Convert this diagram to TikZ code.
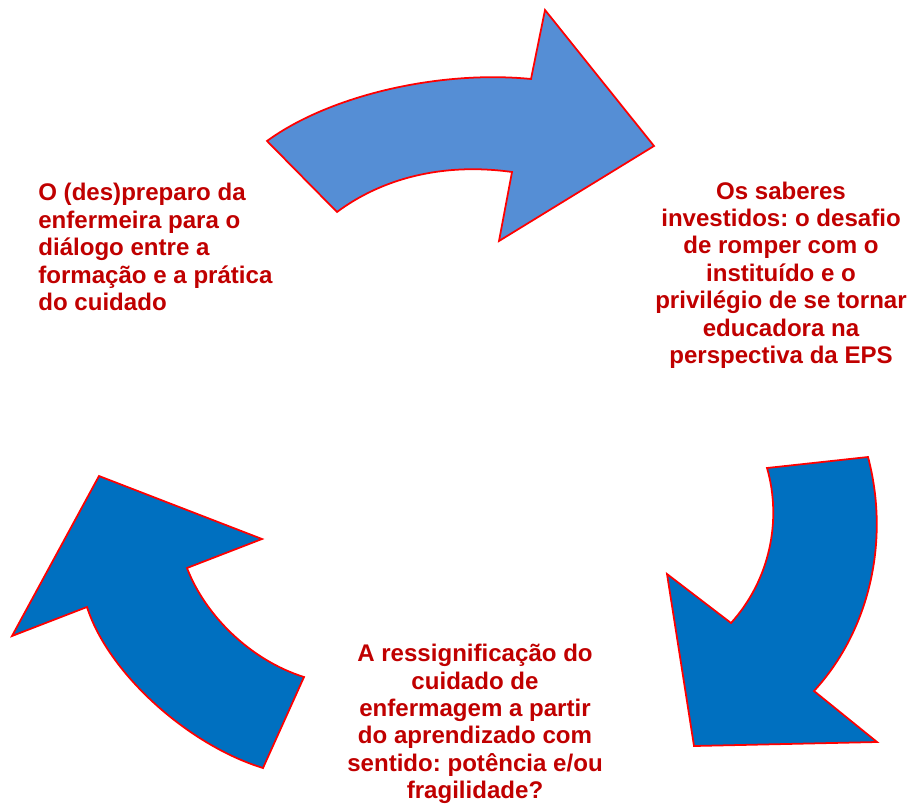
\documentclass[tikz,border=0pt]{standalone}
\usepackage{xcolor}
\usepackage{fontspec}
\setmainfont{Liberation Sans}
\usepackage{tikz}
\usetikzlibrary{positioning,calc}

\definecolor{txtred}{RGB}{192,0,0}
\definecolor{lightblue}{RGB}{85,142,213}
\definecolor{darkblue}{RGB}{0,112,192}
\frenchspacing

\begin{document}
\begin{tikzpicture}[x=0.02cm, y=-0.02cm, line join=miter]
	\tikzstyle{theme}=[text=txtred, inner sep=0pt, font=\fontsize{13.7}{15.6}\selectfont\bfseries]
	\tikzstyle{bigarrow}=[draw=red, line width=1pt]
	\useasboundingbox (0,0) rectangle (911,804);
	% top arrow
	\draw[bigarrow, fill=lightblue] (267,141) .. controls (330,95) and (440,70) .. (531,79)
		-- (545,10) -- (654,146) -- (499,241) -- (512,172)
		.. controls (440,162) and (380,180) .. (337,212) -- cycle;
	% right arrow
	\draw[bigarrow, fill=darkblue] (868,457) -- (767,468)
		.. controls (782,520) and (770,580) .. (731,623)
		-- (667,574) -- (694,746) -- (877,742) -- (814,691)
		.. controls (870,630) and (890,540) .. (868,457) -- cycle;
	% left arrow
	\draw[bigarrow, fill=darkblue] (99,476) -- (262,539) -- (187,568)
		.. controls (205,615) and (250,660) .. (304,677)
		-- (263,768) .. controls (188,745) and (108,673) .. (87,607)
		-- (12,636) -- cycle;
	\node[theme, align=left, anchor=west] (prep) at (38,247)
		{O (des)preparo da\\enfermeira para o\\diálogo entre a\\formação e a prática\\do cuidado};
	\node[theme, align=center] (saberes) at (781,275)
		{Os saberes\\investidos: o desafio\\de romper com o\\instituído e o\\privilégio de se tornar\\educadora na\\perspectiva da EPS};
	\node[theme, align=center] (ressig) at (475,724)
		{A ressignificação do\\cuidado de\\enfermagem a partir\\do aprendizado com\\sentido: potência e/ou\\fragilidade?};
\end{tikzpicture}
\end{document}
